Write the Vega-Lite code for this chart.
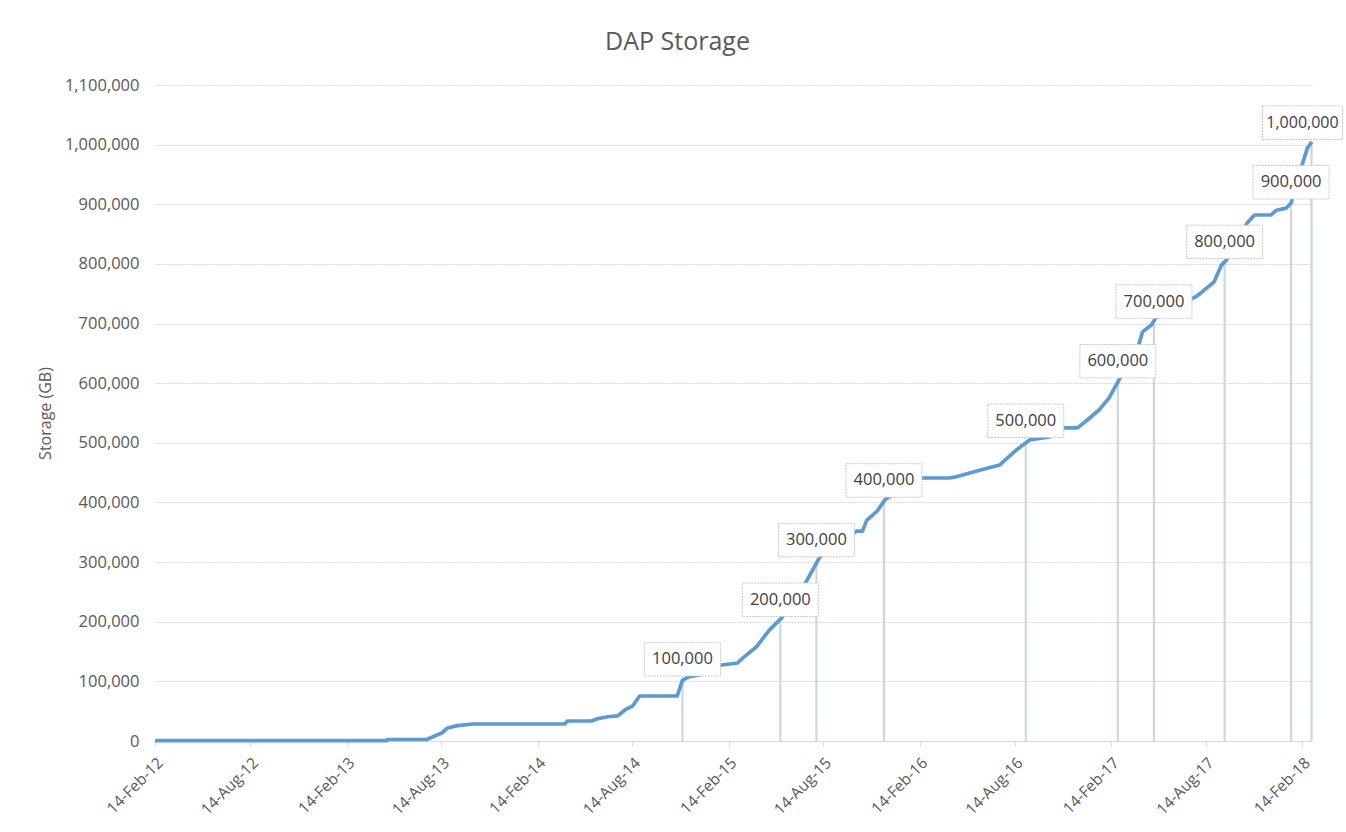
{
  "$schema": "https://vega.github.io/schema/vega-lite/v6.json",
  "width": 1157,
  "height": 656,
  "autosize": {"type": "none"},
  "padding": {"left": 155, "top": 85, "right": 34, "bottom": 91},
  "background": "white",
  "title": {"text": "DAP Storage", "fontSize": 25, "font": "Open Sans", "fontWeight": "normal", "color": "#595959", "anchor": "middle", "dx": -56, "offset": 22},
  "config": {
    "view": {"stroke": null},
    "font": "Open Sans"
  },
  "datasets": {
    "storage": [
      {"date": "2012-02-14", "value": 500},
      {"date": "2013-05-02", "value": 500},
      {"date": "2013-05-03", "value": 2500},
      {"date": "2013-07-17", "value": 2500},
      {"date": "2013-08-15", "value": 13400},
      {"date": "2013-08-26", "value": 21800},
      {"date": "2013-09-14", "value": 25700},
      {"date": "2013-10-13", "value": 28500},
      {"date": "2014-04-07", "value": 28500},
      {"date": "2014-04-12", "value": 33500},
      {"date": "2014-05-28", "value": 33500},
      {"date": "2014-06-07", "value": 37000},
      {"date": "2014-06-28", "value": 40700},
      {"date": "2014-07-17", "value": 42000},
      {"date": "2014-07-31", "value": 52000},
      {"date": "2014-08-15", "value": 59000},
      {"date": "2014-08-28", "value": 75500},
      {"date": "2014-11-08", "value": 75500},
      {"date": "2014-11-18", "value": 102000},
      {"date": "2014-12-01", "value": 107800},
      {"date": "2014-12-20", "value": 110700},
      {"date": "2015-01-28", "value": 127000},
      {"date": "2015-03-03", "value": 130800},
      {"date": "2015-03-13", "value": 139000},
      {"date": "2015-04-08", "value": 157600},
      {"date": "2015-05-03", "value": 186000},
      {"date": "2015-05-26", "value": 206000},
      {"date": "2015-07-13", "value": 268000},
      {"date": "2015-08-07", "value": 308000},
      {"date": "2015-10-17", "value": 352000},
      {"date": "2015-10-28", "value": 352000},
      {"date": "2015-11-05", "value": 370000},
      {"date": "2015-11-24", "value": 384500},
      {"date": "2015-12-11", "value": 405700},
      {"date": "2016-02-17", "value": 441000},
      {"date": "2016-04-11", "value": 441000},
      {"date": "2016-04-24", "value": 443000},
      {"date": "2016-06-08", "value": 454000},
      {"date": "2016-07-16", "value": 462700},
      {"date": "2016-08-17", "value": 488000},
      {"date": "2016-09-11", "value": 504700},
      {"date": "2016-10-19", "value": 510000},
      {"date": "2016-11-13", "value": 525000},
      {"date": "2016-12-12", "value": 525000},
      {"date": "2016-12-29", "value": 537000},
      {"date": "2017-01-22", "value": 555000},
      {"date": "2017-02-10", "value": 575000},
      {"date": "2017-02-27", "value": 602000},
      {"date": "2017-04-09", "value": 667000},
      {"date": "2017-04-15", "value": 686000},
      {"date": "2017-05-02", "value": 697500},
      {"date": "2017-05-10", "value": 709000},
      {"date": "2017-07-26", "value": 745000},
      {"date": "2017-08-07", "value": 753000},
      {"date": "2017-08-30", "value": 770000},
      {"date": "2017-09-13", "value": 798000},
      {"date": "2017-09-22", "value": 806000},
      {"date": "2017-11-01", "value": 868500},
      {"date": "2017-11-15", "value": 882000},
      {"date": "2017-12-17", "value": 882000},
      {"date": "2017-12-27", "value": 890000},
      {"date": "2018-01-15", "value": 893600},
      {"date": "2018-01-24", "value": 902000},
      {"date": "2018-02-14", "value": 965800},
      {"date": "2018-02-24", "value": 994000},
      {"date": "2018-03-05", "value": 1004800}
    ],
    "milestones": [
      {"date": "2014-11-18", "value": 100000},
      {"date": "2015-05-24", "value": 200000},
      {"date": "2015-08-01", "value": 300000},
      {"date": "2015-12-08", "value": 400000},
      {"date": "2016-09-04", "value": 500000},
      {"date": "2017-02-27", "value": 600000},
      {"date": "2017-05-07", "value": 700000},
      {"date": "2017-09-19", "value": 800000},
      {"date": "2018-01-24", "value": 900000},
      {"date": "2018-03-04", "value": 1000000}
    ]
  },
  "layer": [
    {
      "data": {"name": "milestones"},
      "mark": {"type": "rule", "color": "#cdd6e2", "strokeWidth": 2.2},
      "encoding": {
        "x": {
          "field": "date", "type": "temporal",
          "scale": {"type": "utc", "domain": [{"year": 2012, "month": 2, "date": 14, "utc": true}, {"year": 2018, "month": 3, "date": 5, "utc": true}]},
          "axis": {
            "title": null,
            "format": "%d-%b-%y",
            "values": [
              {"year": 2012, "month": 2, "date": 14, "utc": true},
              {"year": 2012, "month": 8, "date": 14, "utc": true},
              {"year": 2013, "month": 2, "date": 14, "utc": true},
              {"year": 2013, "month": 8, "date": 14, "utc": true},
              {"year": 2014, "month": 2, "date": 14, "utc": true},
              {"year": 2014, "month": 8, "date": 14, "utc": true},
              {"year": 2015, "month": 2, "date": 14, "utc": true},
              {"year": 2015, "month": 8, "date": 14, "utc": true},
              {"year": 2016, "month": 2, "date": 14, "utc": true},
              {"year": 2016, "month": 8, "date": 14, "utc": true},
              {"year": 2017, "month": 2, "date": 14, "utc": true},
              {"year": 2017, "month": 8, "date": 14, "utc": true},
              {"year": 2018, "month": 2, "date": 14, "utc": true}
            ],
            "labelAngle": -45,
            "grid": false,
            "domainColor": "#d9d9d9",
            "tickColor": "#d9d9d9",
            "tickSize": 5,
            "labelFontSize": 15.5,
            "labelColor": "#595959",
            "labelPadding": 9,
            "labelFont": "Open Sans"
          }
        },
        "y": {
          "field": "value", "type": "quantitative",
          "scale": {"domain": [0, 1100000]},
          "axis": {
            "title": "Storage (GB)",
            "titleFontSize": 16,
            "titleFontWeight": "normal",
            "titleColor": "#595959",
            "titleFont": "Open Sans",
            "titlePadding": 11,
            "values": [0, 100000, 200000, 300000, 400000, 500000, 600000, 700000, 800000, 900000, 1000000, 1100000],
            "format": ",d",
            "domain": false,
            "ticks": false,
            "grid": true,
            "gridColor": "#d9d9d9",
            "gridDash": [2, 1],
            "labelFontSize": 16.5,
            "labelColor": "#595959",
            "labelFont": "Open Sans",
            "labelPadding": 16
          }
        },
        "y2": {"datum": 0}
      }
    },
    {
      "data": {"name": "storage"},
      "mark": {"type": "line", "color": "#5b9bd5", "strokeWidth": 3.7, "strokeJoin": "round"},
      "encoding": {
        "x": {"field": "date", "type": "temporal"},
        "y": {"field": "value", "type": "quantitative"}
      }
    },
    {
      "data": {"name": "milestones"},
      "transform": [{"filter": "datum.value < 1000000"}],
      "mark": {"type": "point", "shape": "M-1,-0.44H1V0.44H-1Z", "size": 5776, "filled": true, "fill": "white", "fillOpacity": 1, "stroke": "#c8c8c8", "strokeWidth": 1, "strokeDash": [2, 1], "opacity": 1, "yOffset": -22},
      "encoding": {
        "x": {"field": "date", "type": "temporal"},
        "y": {"field": "value", "type": "quantitative"}
      }
    },
    {
      "data": {"name": "milestones"},
      "transform": [{"filter": "datum.value >= 1000000"}],
      "mark": {"type": "point", "shape": "M-1,-0.42H1V0.42H-1Z", "size": 6400, "filled": true, "fill": "white", "fillOpacity": 1, "stroke": "#c8c8c8", "strokeWidth": 1, "strokeDash": [2, 1], "opacity": 1, "yOffset": -22, "xOffset": -9},
      "encoding": {
        "x": {"field": "date", "type": "temporal"},
        "y": {"field": "value", "type": "quantitative"}
      }
    },
    {
      "data": {"name": "milestones"},
      "transform": [{"filter": "datum.value < 1000000"}],
      "mark": {"type": "text", "font": "Open Sans", "fontSize": 16.5, "color": "#404040", "dy": -22, "baseline": "middle", "align": "center"},
      "encoding": {
        "x": {"field": "date", "type": "temporal"},
        "y": {"field": "value", "type": "quantitative"},
        "text": {"field": "value", "type": "quantitative", "format": ",d"}
      }
    },
    {
      "data": {"name": "milestones"},
      "transform": [{"filter": "datum.value >= 1000000"}],
      "mark": {"type": "text", "font": "Open Sans", "fontSize": 16, "color": "#404040", "dy": -22, "dx": -9, "baseline": "middle", "align": "center"},
      "encoding": {
        "x": {"field": "date", "type": "temporal"},
        "y": {"field": "value", "type": "quantitative"},
        "text": {"field": "value", "type": "quantitative", "format": ",d"}
      }
    }
  ]
}
